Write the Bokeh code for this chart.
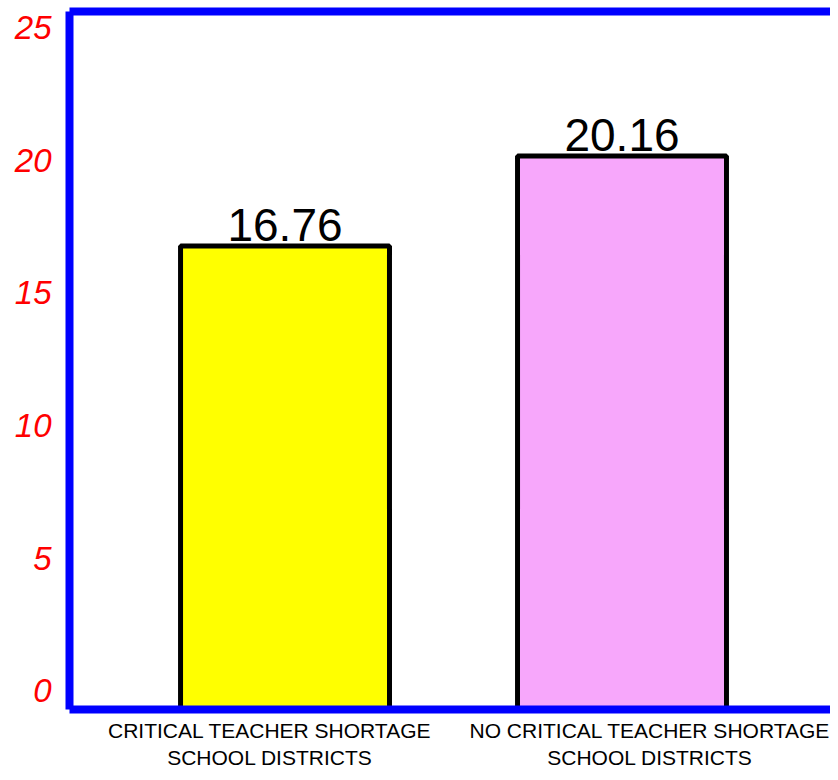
from bokeh.plotting import figure
from bokeh.models import Range1d, FixedTicker, LinearAxis, ColumnDataSource, CustomJSTickFormatter
from bokeh.embed import file_html
from bokeh.resources import INLINE
from bokeh.core.properties import value

categories = ["CRITICAL TEACHER SHORTAGE\nSCHOOL DISTRICTS",
              "NO CRITICAL TEACHER SHORTAGE\nSCHOOL DISTRICTS"]
values = [16.76, 20.16]
colors = ["#FFFF00", "#F7A7FB"]
y_ticks = [0, 5, 10, 15, 20, 25]

x_pos = list(range(len(categories)))
y_start, y_end = -0.7, 25.6
x_start, x_end = -0.6395, 1.6187
label_shift = [-0.045, 0.083]  # hand-drawn style offsets of category labels

p = figure(width=830, height=772, output_backend="svg", toolbar_location=None,
           x_range=Range1d(x_start, x_end), y_range=Range1d(y_start, y_end),
           min_border_left=69, min_border_right=0, min_border_top=11, min_border_bottom=61)
p.outline_line_color = None
p.grid.visible = False
p.background_fill_color = "white"

src = ColumnDataSource(dict(x=x_pos, top=values, color=colors,
                            bottom=[y_start] * len(values),
                            label=[f"{v:.2f}" for v in values]))
p.vbar(x="x", top="top", bottom="bottom", width=0.62, fill_color="color",
       line_color="black", line_width=5, source=src)
p.text(x="x", y="top", text="label", source=src, text_align="center",
       text_baseline="middle", y_offset=-21, text_color="black",
       text_font=value("Liberation Sans"), text_font_size="46px")

# axes
xa = p.xaxis[0]
xa.ticker = FixedTicker(ticks=[xi + s for xi, s in zip(x_pos, label_shift)])
xa.formatter = CustomJSTickFormatter(args=dict(labels=categories),
                                     code="return labels[index]")
xa.axis_line_color = "#0000FF"
xa.axis_line_width = 8
xa.major_tick_line_color = None
xa.minor_tick_line_color = None
xa.major_label_text_font = "Liberation Sans"
xa.major_label_text_font_size = "21px"
xa.major_label_text_color = "black"
xa.major_label_text_line_height = 1.2
xa.major_label_standoff = 3

ya = p.yaxis[0]
ya.ticker = FixedTicker(ticks=y_ticks)
ya.axis_line_color = "#0000FF"
ya.axis_line_width = 8
ya.major_tick_line_color = None
ya.minor_tick_line_color = None
ya.major_label_text_font = "Liberation Sans"
ya.major_label_text_font_style = "italic"
ya.major_label_text_font_size = "33px"
ya.major_label_text_color = "#FF0000"
ya.major_label_standoff = 12

top_axis = LinearAxis(ticker=FixedTicker(ticks=[]), axis_line_color="#0000FF",
                      axis_line_width=8, major_tick_line_color=None,
                      minor_tick_line_color=None, major_label_text_font_size="0px",
                      major_label_standoff=0)
p.add_layout(top_axis, "above")

open("out.html", "w").write(file_html(p, INLINE))
